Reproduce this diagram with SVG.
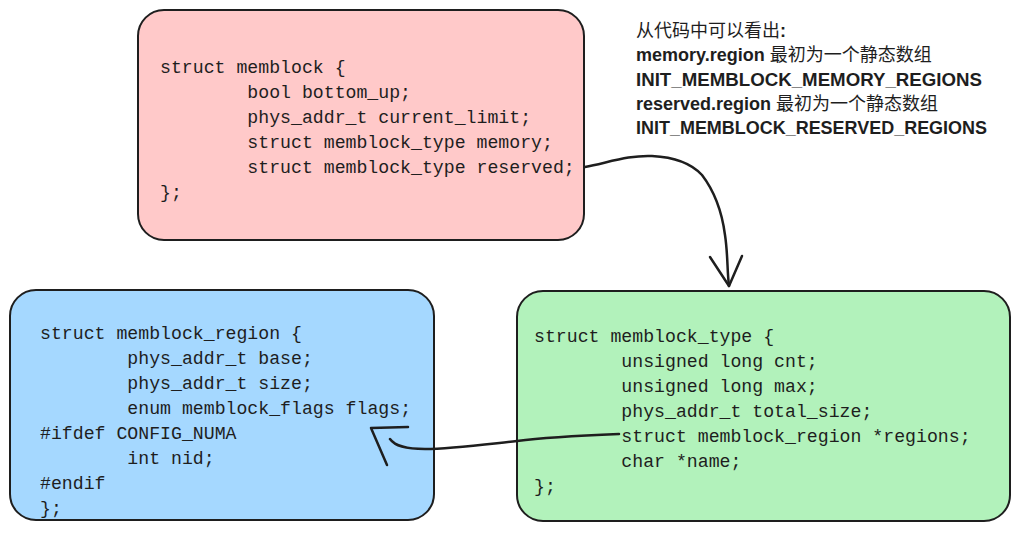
<svg xmlns="http://www.w3.org/2000/svg" width="1025" height="533" viewBox="0 0 1025 533">
<style>
.box{stroke:#1e1e1e;stroke-width:2;}
.code{font-family:"Liberation Mono","DejaVu Sans Mono",monospace;font-size:18.2px;fill:#1e1e1e;white-space:pre;}
.note{font-family:"Liberation Sans","Noto Sans CJK SC",sans-serif;font-size:18px;fill:#1e1e1e;}
.b{font-weight:bold;}
.conn{fill:none;stroke:#1e1e1e;stroke-width:2.5;stroke-linecap:round;stroke-linejoin:round;}
</style>
<rect width="1025" height="533" fill="#ffffff"/>
<g id="memblock">
<rect class="box" x="138" y="10" width="446" height="230" rx="26" fill="#ffc9c9"/>
<text class="code" xml:space="preserve"><tspan x="160" y="73">struct memblock {</tspan><tspan x="160" y="98">        bool bottom_up;</tspan><tspan x="160" y="123">        phys_addr_t current_limit;</tspan><tspan x="160" y="148">        struct memblock_type memory;</tspan><tspan x="160" y="173">        struct memblock_type reserved;</tspan><tspan x="160" y="198">};</tspan></text>
</g>
<g id="memblock_region">
<rect class="box" x="10" y="290" width="424" height="230" rx="26" fill="#a5d8ff"/>
<text class="code" xml:space="preserve"><tspan x="40" y="339">struct memblock_region {</tspan><tspan x="40" y="364">        phys_addr_t base;</tspan><tspan x="40" y="389">        phys_addr_t size;</tspan><tspan x="40" y="414">        enum memblock_flags flags;</tspan><tspan x="40" y="439">#ifdef CONFIG_NUMA</tspan><tspan x="40" y="464">        int nid;</tspan><tspan x="40" y="489">#endif</tspan><tspan x="40" y="514">};</tspan></text>
</g>
<g id="memblock_type">
<rect class="box" x="517" y="291" width="493" height="230" rx="26" fill="#b2f2bb"/>
<text class="code" xml:space="preserve"><tspan x="534" y="342">struct memblock_type {</tspan><tspan x="534" y="367">        unsigned long cnt;</tspan><tspan x="534" y="392">        unsigned long max;</tspan><tspan x="534" y="417">        phys_addr_t total_size;</tspan><tspan x="534" y="442">        struct memblock_region *regions;</tspan><tspan x="534" y="467">        char *name;</tspan><tspan x="534" y="492">};</tspan></text>
</g>
<g id="note">
<text class="note"><tspan x="636" y="37">从代码中可以看出<tspan class="b">:</tspan></tspan><tspan x="636" y="61"><tspan class="b">memory.region</tspan> 最初为一个静态数组</tspan><tspan x="636" y="86" class="b" textLength="346" lengthAdjust="spacingAndGlyphs">INIT_MEMBLOCK_MEMORY_REGIONS</tspan><tspan x="636" y="110"><tspan class="b">reserved.region</tspan> 最初为一个静态数组</tspan><tspan x="636" y="134" class="b" textLength="351" lengthAdjust="spacingAndGlyphs">INIT_MEMBLOCK_RESERVED_REGIONS</tspan></text>
</g>
<g id="connectors">
<path class="conn" d="M585,167 C610,162 630,155 652,156 C672,157 690,162 702,175 C715,192 722,212 725,235 C728,255 727,270 729,286"/>
<path class="conn" d="M710,257 L729,286 L742,256"/>
<path class="conn" d="M619,434 C570,436 540,438 517,441 C480,445 450,449 425,449 C405,449 395,446 390,439"/>
<path class="conn" d="M387,465 L371,428 L408,427"/>
</g>
</svg>
